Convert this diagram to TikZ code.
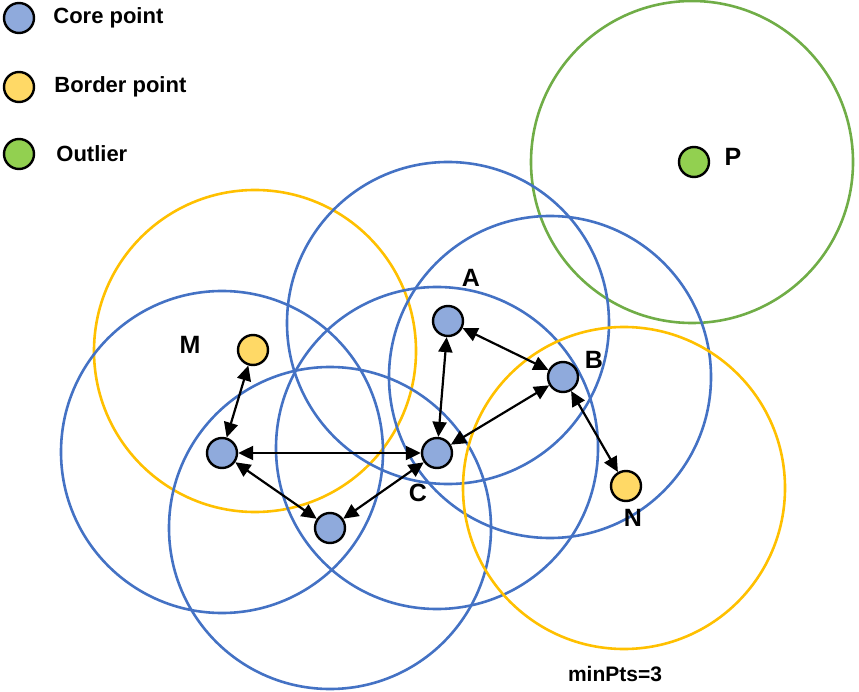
\documentclass[tikz,border=0pt]{standalone}
\usepackage{fontspec}
\setmainfont{Liberation Sans}
\usepackage{tikz}
\usetikzlibrary{arrows.meta,positioning}
\definecolor{coreblue}{HTML}{4472C4}
\definecolor{corefill}{HTML}{8FAADC}
\definecolor{bordyellow}{HTML}{FFC000}
\definecolor{bordfill}{HTML}{FFD966}
\definecolor{outgreen}{HTML}{70AD47}
\definecolor{outfill}{HTML}{92D050}
\tikzset{
db_p/.style = {circle, draw=black, line width=2.4pt, minimum size=30pt, inner sep=0pt},
db_c/.style = {db_p, fill=corefill},% core point
db_b/.style = {db_p, fill=bordfill},% border point
db_o/.style = {db_p, fill=outfill},% outlier
lbl/.style = {inner sep=0pt, font=\fontsize{25}{30}\selectfont\bfseries},
leg/.style = {inner sep=0pt, font=\fontsize{22}{26}\selectfont\bfseries},
reach/.style = {line width=2.2pt, {Triangle[length=15pt,width=14pt]}-{Triangle[length=15pt,width=14pt]}},
eps/.style = {line width=2.6pt}
}
\begin{document}
\begin{tikzpicture}[x=1pt,y=-1pt]
\useasboundingbox (0,0) rectangle (859,692);
% eps neighbourhoods
\foreach \cx/\cy/\col in {692/162/outgreen, 255/351/bordyellow, 222/452/coreblue,
  330/528/coreblue, 437/448/coreblue, 448/323/coreblue, 550/377/coreblue, 624/488/bordyellow}
  \draw[eps,\col] (\cx,\cy) circle[radius=161pt];
% legend
\node[db_c] (core) at (19,18) {};
\node[db_b] (border) at (19,87) {};
\node[db_o] (outl) at (19,154) {};
\node[leg, right=18pt of core] (coretxt) {Core point};
\node[leg, right=19pt of border] (bordertxt) {Border point};
\node[leg, right=21pt of outl] (outltxt) {Outlier};
% points
\node[db_o] (ptP) at (694,162) {};
\node[db_c] (ptA) at (448,321) {};
\node[db_c] (ptB) at (563,377) {};
\node[db_c] (ptC) at (437,453) {};
\node[db_c] (ptD) at (222,453) {};
\node[db_c] (ptE) at (330,528) {};
\node[db_b] (ptM) at (253,350) {};
\node[db_b] (ptN) at (626,486) {};
% labels
\node[lbl] (labA) at (471,278) {A};
\node[lbl] (labB) at (594,360) {B};
\node[lbl] (labC) at (418,493) {C};
\node[lbl] (labM) at (190,345) {M};
\node[lbl] (labN) at (633,518) {N};
\node[lbl] (labP) at (733,157) {P};
\node[lbl, font=\fontsize{21}{25}\selectfont\bfseries] (minpts) at (615,674) {minPts=3};
% density reachability
\foreach \u/\v in {M/D, D/C, D/E, E/C, C/A, A/B, B/C, B/N}
  \draw[reach] (pt\u) -- (pt\v);
\end{tikzpicture}
\end{document}
